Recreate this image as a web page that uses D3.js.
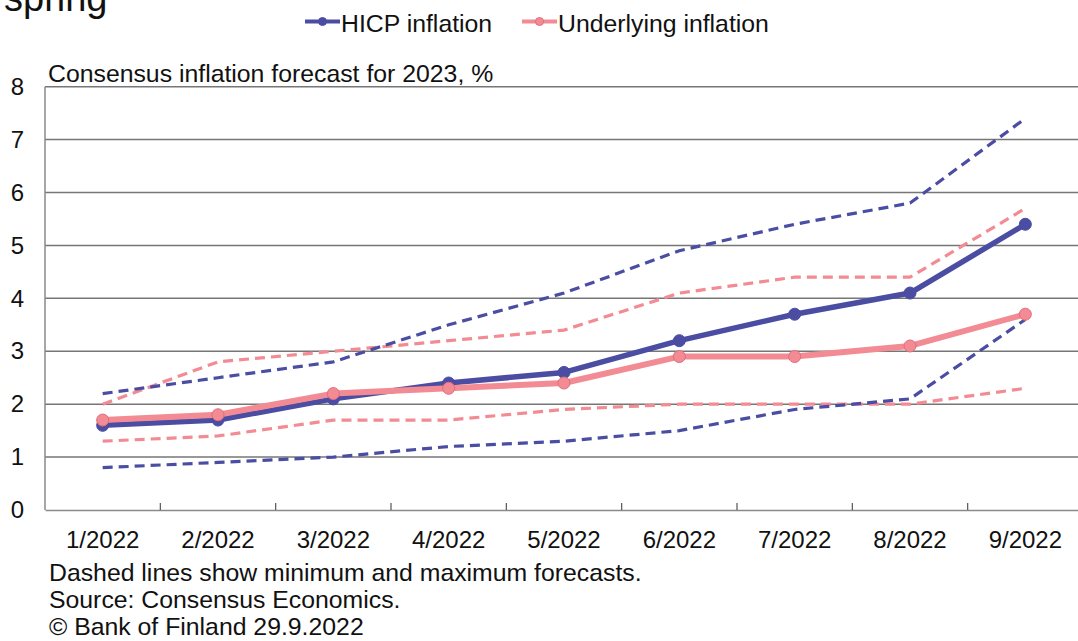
<!DOCTYPE html>
<html>
<head>
<meta charset="utf-8">
<script src="https://cdn.jsdelivr.net/npm/d3@7"></script>
<style>
  html, body { margin: 0; padding: 0; background: #fff; }
  svg { display: block; font-family: "Liberation Sans", Arial, sans-serif; }
</style>
</head>
<body>
<svg id="chart" width="1078" height="641"></svg>
<script>
// ---- Data ----
const categories = ["1/2022", "2/2022", "3/2022", "4/2022", "5/2022", "6/2022", "7/2022", "8/2022", "9/2022"];
const hicp      = [1.6, 1.7, 2.1, 2.4, 2.6, 3.2, 3.7, 4.1, 5.4];
const hicpMax   = [2.2, 2.5, 2.8, 3.5, 4.1, 4.9, 5.4, 5.8, 7.4];
const hicpMin   = [0.8, 0.9, 1.0, 1.2, 1.3, 1.5, 1.9, 2.1, 3.6];
const underlying    = [1.7, 1.8, 2.2, 2.3, 2.4, 2.9, 2.9, 3.1, 3.7];
const underlyingMax = [2.0, 2.8, 3.0, 3.2, 3.4, 4.1, 4.4, 4.4, 5.7];
const underlyingMin = [1.3, 1.4, 1.7, 1.7, 1.9, 2.0, 2.0, 2.0, 2.3];
const yTicks = [0, 1, 2, 3, 4, 5, 6, 7, 8];
const legendLabels = ["HICP inflation", "Underlying inflation"];
const titleText = "spring";
const subtitleText = "Consensus inflation forecast for 2023, %";
const footerLines = [
  "Dashed lines show minimum and maximum forecasts.",
  "Source: Consensus Economics.",
  "\u00A9 Bank of Finland 29.9.2022"
];

// ---- Styles ----
const BLUE = "#4a4da2";
const PINK = "#f28b93";
const PINK_EDGE = "#e26d7c";
const GRID = "#767676";
const FONT = 24;
const FONT_TXT = 24.8;

const svg = d3.select("#chart");
const plotLeft = 45, plotRight = 1083, plotTop = 86.7, plotBottom = 510;

const x = d3.scaleBand().domain(categories).range([plotLeft, plotRight]).padding(0);
const y = d3.scaleLinear().domain([0, 8]).range([plotBottom, plotTop]);
const cx = c => x(c) + x.bandwidth() / 2;

// Gridlines (including top border at 8)
svg.append("g").selectAll("line")
  .data(yTicks.filter(t => t > 0))
  .join("line")
  .attr("x1", plotLeft).attr("x2", plotRight)
  .attr("y1", d => y(d)).attr("y2", d => y(d))
  .attr("stroke", GRID).attr("stroke-width", 1.5);

// Left axis line
svg.append("line")
  .attr("x1", plotLeft).attr("x2", plotLeft).attr("y1", y(8)).attr("y2", y(0))
  .attr("stroke", "#8a8a8a").attr("stroke-width", 1.5);

// Y axis labels
const yAxis = d3.axisLeft(y).tickValues(yTicks).tickSize(0).tickPadding(21).tickFormat(d3.format("d"));
const gy = svg.append("g").attr("transform", `translate(${plotLeft},0)`).call(yAxis);
gy.select(".domain").remove();
gy.selectAll("text").attr("font-size", FONT).attr("font-family", "Liberation Sans, Arial, sans-serif").attr("fill", "#111");

// X axis: labels
const xAxis = d3.axisBottom(x).tickSize(0).tickPadding(21);
const gx = svg.append("g").attr("transform", `translate(0,${plotBottom})`).call(xAxis);
gx.select(".domain").attr("stroke", "#8a8a8a").attr("stroke-width", 1.5);
gx.selectAll("text").attr("font-size", FONT).attr("font-family", "Liberation Sans, Arial, sans-serif").attr("fill", "#111");

// X axis inner ticks at band boundaries
svg.append("g").selectAll("line")
  .data(categories.slice(1))
  .join("line")
  .attr("x1", d => x(d)).attr("x2", d => x(d))
  .attr("y1", plotBottom).attr("y2", plotBottom - 7)
  .attr("stroke", "#555").attr("stroke-width", 1.2);

// Lines
const line = d3.line().x((d, i) => cx(categories[i])).y(d => y(d));

function dashed(data, color) {
  svg.append("path").datum(data)
    .attr("d", line).attr("fill", "none")
    .attr("stroke", color).attr("stroke-width", 3.2)
    .attr("stroke-dasharray", "10,6");
}
dashed(underlyingMax, PINK);
dashed(underlyingMin, PINK);
dashed(hicpMax, BLUE);
dashed(hicpMin, BLUE);

function solid(data, color, fill, edge, w) {
  svg.append("path").datum(data)
    .attr("d", line).attr("fill", "none")
    .attr("stroke", color).attr("stroke-width", w)
    .attr("stroke-linejoin", "round");
  svg.append("g").selectAll("circle").data(data).join("circle")
    .attr("cx", (d, i) => cx(categories[i])).attr("cy", d => y(d))
    .attr("r", 6).attr("fill", fill).attr("stroke", edge).attr("stroke-width", 1);
}
solid(hicp, BLUE, BLUE, BLUE, 5.5);
solid(underlying, PINK, PINK, PINK_EDGE, 6);

// Title (cut off at top)
svg.append("text").attr("x", 4).attr("y", 11)
  .attr("font-size", 38).attr("fill", "#111").text(titleText);

// Subtitle
svg.append("text").attr("x", 48).attr("y", 82)
  .attr("font-size", FONT_TXT).attr("fill", "#111").text(subtitleText);

// Legend
const legendItems = [
  { label: legendLabels[0], color: BLUE, edge: BLUE, x0: 305 },
  { label: legendLabels[1], color: PINK, edge: PINK_EDGE, x0: 522 }
];
const lg = svg.append("g");
legendItems.forEach(it => {
  lg.append("line").attr("x1", it.x0).attr("x2", it.x0 + 35)
    .attr("y1", 21.5).attr("y2", 21.5)
    .attr("stroke", it.color).attr("stroke-width", 4);
  lg.append("circle").attr("cx", it.x0 + 17.5).attr("cy", 21.5).attr("r", 4)
    .attr("fill", it.color).attr("stroke", it.edge).attr("stroke-width", 1);
  lg.append("text").attr("x", it.x0 + 36).attr("y", 31.5)
    .attr("font-size", FONT_TXT).attr("fill", "#111").text(it.label);
});

// Footer
svg.append("g").selectAll("text").data(footerLines).join("text")
  .attr("x", 49).attr("y", (d, i) => 581 + i * 27)
  .attr("font-size", FONT_TXT).attr("fill", "#111").text(d => d);
</script>
</body>
</html>
